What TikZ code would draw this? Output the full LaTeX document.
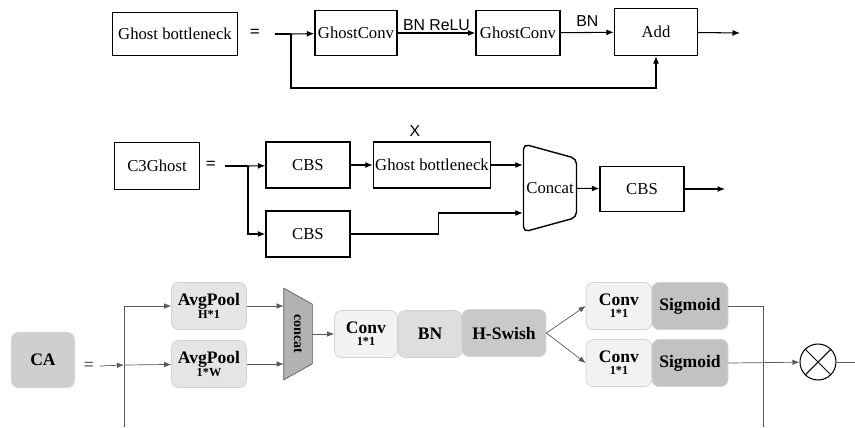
\documentclass[tikz,border=0pt]{standalone}
\usepackage{fontspec}
\setmainfont{Liberation Serif}
\setsansfont{Liberation Sans}
\usetikzlibrary{arrows.meta, positioning, shapes.geometric, calc}
\newcommand{\subtxt}[1]{{\fontsize{7}{7}\selectfont #1}}

\begin{document}
\begin{tikzpicture}[x=0.02cm, y=-0.02cm,
  blk/.style={draw, thick, minimum width=1.66cm, minimum height=0.9cm, inner sep=1pt,
    font=\fontsize{9.5}{10}\selectfont},
  lbl/.style={font=\sffamily\fontsize{9}{10}\selectfont, inner sep=1pt},
  flow/.style={-{Latex[length=1.5mm,width=1.2mm]}, semithick},
  cat/.style={trapezium, draw, thick, shape border rotate=270,
    trapezium left angle=74, trapezium right angle=74, trapezium stretches body,
    rounded corners=3pt, inner sep=1pt, font=\fontsize{9.5}{10}\selectfont},
  soft/.style={draw=gray!35, rounded corners=4pt, align=center, inner sep=1pt,
    minimum height=0.94cm, font=\bfseries\fontsize{10}{9}\selectfont},
  gflow/.style={-{Latex[length=1.4mm,width=1.1mm]}, gray!70!black, thin},
  gline/.style={gray!70!black, thin}
]
  \useasboundingbox (0,0) rectangle (855,427);

  % Ghost bottleneck
  \node[blk, minimum width=2.5cm, minimum height=0.86cm] (gbA) at (175,34) {Ghost bottleneck};
  \node[font=\bfseries] (eqA) at (255,33) {=};
  \coordinate (inA) at (275,34);
  \coordinate (brA) at (291,34);
  \node[blk, minimum width=1.64cm] (gc1) at (356,33) {GhostConv};
  \node[blk, minimum width=1.68cm] (gc2) at (518,33) {GhostConv};
  \node[blk, minimum width=1.66cm, minimum height=0.94cm] (add) at (656,32) {Add};
  \coordinate (outA) at (740,33);

  \draw[semithick] (inA) -- (brA);
  \draw[flow] (brA) -- (gc1);
  \draw[flow] (gc1) -- node[lbl, above] {BN ReLU} (gc2);
  \draw[flow] (gc2) -- node[lbl, above=2pt] {BN} (add);
  \draw[flow] (add) -- (outA);
  \draw[flow] (brA) -- ++(0,54) -| (add.south);

  % C3Ghost
  \node[blk, minimum width=1.7cm, minimum height=0.94cm] (c3) at (157,166) {C3Ghost};
  \node[font=\bfseries] (eqB) at (211,165) {=};
  \coordinate (inB) at (225,166);
  \coordinate (brB) at (248,166);
  \node[blk, minimum width=1.68cm, minimum height=0.92cm] (cbs1) at (308,165) {CBS};
  \node[blk, minimum width=2.34cm, minimum height=0.92cm] (gbB) at (432,165) {Ghost bottleneck};
  \node[lbl] (rep) at (415,131) {X};
  \node[blk, minimum width=1.68cm, minimum height=0.92cm] (cbs2) at (308,234) {CBS};
  \node[cat, minimum width=1.76cm, minimum height=1.06cm] (cat) at (550,188) {Concat};
  \node[blk, minimum width=1.68cm, minimum height=0.9cm] (cbs3) at (642,189) {CBS};
  \coordinate (outB) at (725,189);

  \draw[semithick] (inB) -- (brB);
  \draw[flow] (brB) -- (cbs1);
  \draw[flow] (brB) |- (cbs2);
  \draw[flow] (cbs1) -- (gbB);
  \draw[flow] (gbB.east) -- (gbB.east -| cat.west);
  \draw[flow] (cbs2.east) -- ++(88,0) |- ($(cat.west)+(0,25)$);
  \draw[flow] (cat) -- (cbs3);
  \draw[flow] (cbs3) -- (outB);

  % CA
  \node[soft, fill=gray!38, minimum width=1.26cm, minimum height=1.1cm] (ca) at (43,360) {CA};
  \node[font=\bfseries, gray!70!black] (eqC) at (89,366) {=};
  \coordinate (brC) at (124,365);
  \coordinate (downC) at (124,427);
  \node[soft, fill=gray!20, minimum width=1.5cm] (avg1) at (209,306) {AvgPool\\[-2pt]\subtxt{H*1}};
  \node[soft, fill=gray!20, minimum width=1.5cm] (avg2) at (209,364) {AvgPool\\[-2pt]\subtxt{1*W}};
  \node[minimum width=0.56cm, minimum height=1.82cm, inner sep=0pt] (cat2) at (298,334) {};
  \draw[draw=gray!70!black, fill=gray!60] (cat2.north west) -- ($(cat2.north east)+(0,16)$)
    -- ($(cat2.south east)+(0,-16)$) -- (cat2.south west) -- cycle;
  \node[rotate=-90, font=\bfseries\fontsize{8}{8}\selectfont] at (cat2) {concat};
  \node[soft, fill=gray!10, minimum width=1.26cm] (conv0) at (366,334) {Conv\\[-2pt]\subtxt{1*1}};
  \node[soft, fill=gray!26, minimum width=1.28cm] (bn) at (430,334) {BN};
  \node[soft, fill=gray!42, minimum width=1.68cm] (hsw) at (504,333) {H-Swish};
  \node[soft, fill=gray!10, minimum width=1.32cm] (conv1) at (619,306) {Conv\\[-2pt]\subtxt{1*1}};
  \node[soft, fill=gray!48, minimum width=1.52cm] (sig1) at (690,306) {Sigmoid};
  \node[soft, fill=gray!10, minimum width=1.32cm] (conv2) at (619,363) {Conv\\[-2pt]\subtxt{1*1}};
  \node[soft, fill=gray!48, minimum width=1.52cm] (sig2) at (690,363) {Sigmoid};
  \node[circle, draw, semithick, minimum size=0.72cm] (mul) at (818,362) {};
  \coordinate (downD) at (763,427);
  \coordinate (outC) at (855,362);

  \draw[gflow] (eqC.east) -- (brC);
  \draw[gline] (brC |- avg1) -- (downC);
  \draw[gflow] (brC |- avg1) -- (avg1);
  \draw[gflow] (brC) -- (avg2);
  \draw[gflow] (avg1.east) -- (avg1.east -| cat2.west);
  \draw[gflow] (avg2.east) -- (avg2.east -| cat2.west);
  \draw[gflow] (cat2) -- (conv0);
  \draw[gflow] (hsw.east) -- (conv1.west);
  \draw[gflow] (hsw.east) -- (conv2.west);
  \draw[gline] (sig1.east) -| (downD);
  \draw[gflow] (sig2.east) -- (mul);
  \draw[gline] (mul) -- (outC);
  \draw[semithick] (mul.north west) -- (mul.south east);
  \draw[semithick] (mul.north east) -- (mul.south west);
\end{tikzpicture}
\end{document}
